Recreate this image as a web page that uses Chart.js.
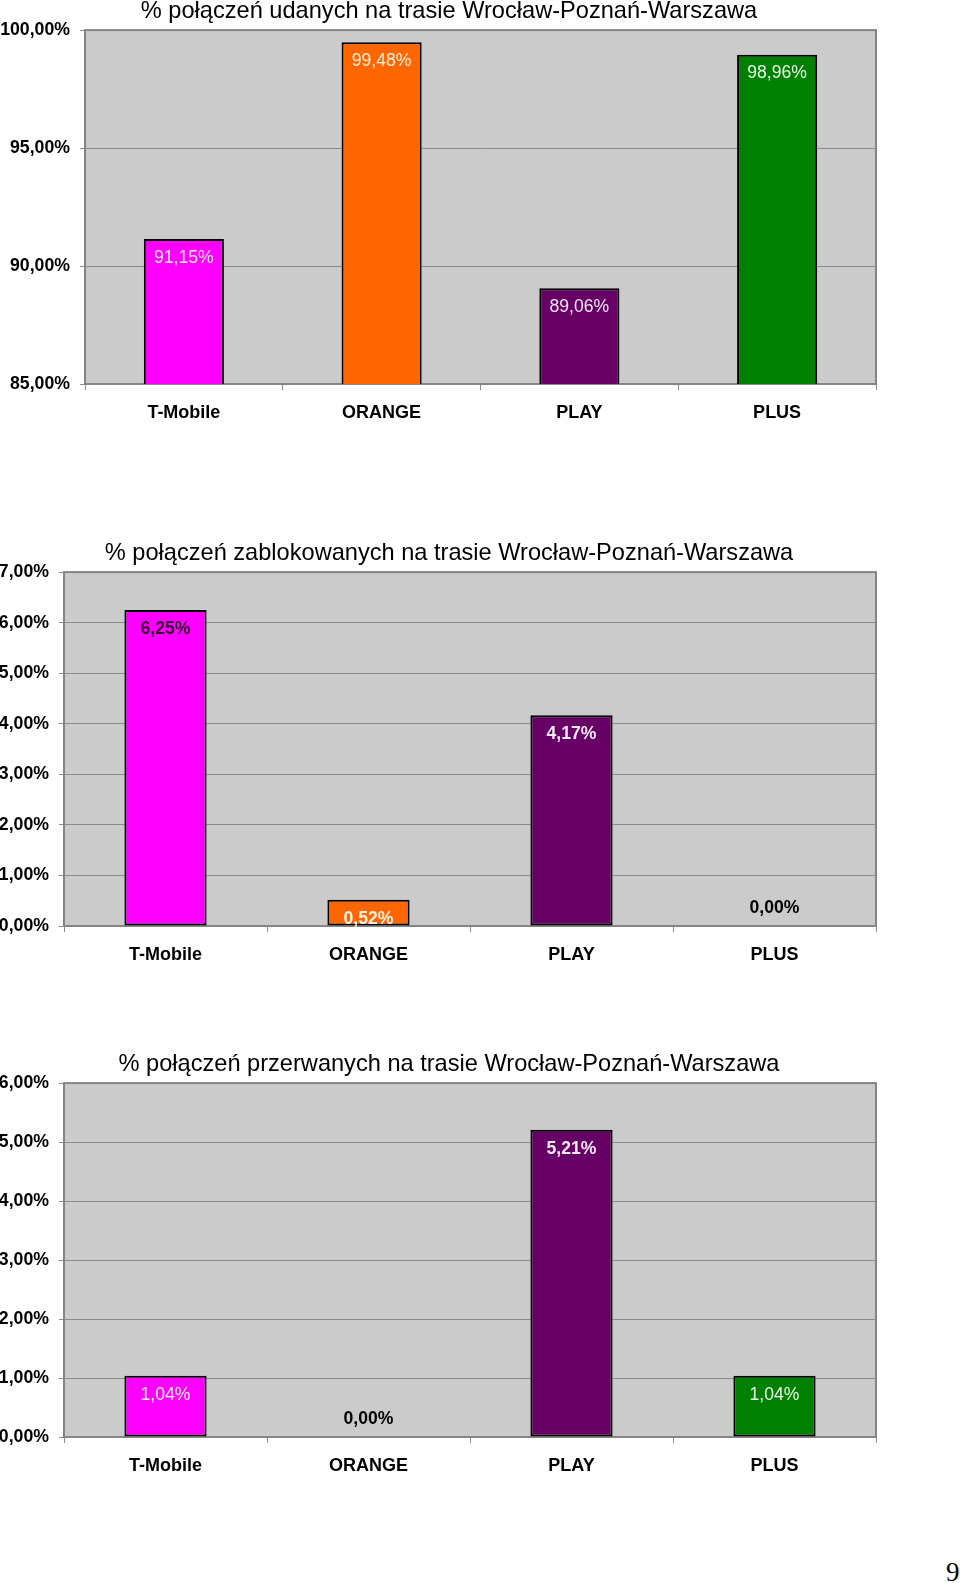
<!DOCTYPE html>
<html lang="pl">
<head>
<meta charset="utf-8">
<title>Połączenia na trasie Wrocław-Poznań-Warszawa</title>
<script src="https://cdn.jsdelivr.net/npm/chart.js@4.4.1/dist/chart.umd.min.js"></script>
<style>
  html, body { margin: 0; padding: 0; background: #fff; }
  body { position: relative; width: 960px; height: 1583px; overflow: hidden; }
  .box { position: absolute; left: 0; width: 898px; height: 430px; }
  #box1 { top: 0; }
  #box2 { top: 542px; }
  #box3 { top: 1053px; }
  .page-no {
    position: absolute; left: 946px; top: 1559px;
    font-family: "Liberation Serif", "DejaVu Serif", serif; font-size: 27px; line-height: 27px;
  }
</style>
</head>
<body>
<div class="box" id="box1"><canvas id="chart1"></canvas></div>
<div class="box" id="box2"><canvas id="chart2"></canvas></div>
<div class="box" id="box3"><canvas id="chart3"></canvas></div>
<div class="page-no">9</div>

<script>
const operators = ['T-Mobile', 'ORANGE', 'PLAY', 'PLUS'];
const barColors = ['#ff00ff', '#ff6600', '#660066', '#008000'];

const successTitle = '% połączeń udanych na trasie Wrocław-Poznań-Warszawa';
const successValues = [91.15, 99.48, 89.06, 98.96];
const successTicks = [85, 90, 95, 100];

const blockedTitle = '% połączeń zablokowanych na trasie Wrocław-Poznań-Warszawa';
const blockedValues = [6.25, 0.52, 4.17, 0.00];
const blockedTicks = [0, 1, 2, 3, 4, 5, 6, 7];

const droppedTitle = '% połączeń przerwanych na trasie Wrocław-Poznań-Warszawa';
const droppedValues = [1.04, 0.00, 5.21, 1.04];
const droppedTicks = [0, 1, 2, 3, 4, 5, 6];

const FONT = '"Liberation Sans", Arial, sans-serif';
const fmt = v => v.toFixed(2).replace('.', ',') + '%';

// gray plot area + thin frame, like the old excel charts
const plotFrame = {
  id: 'plotFrame',
  beforeDraw(chart) {
    const a = chart.chartArea, ctx = chart.ctx;
    ctx.save();
    ctx.fillStyle = '#cbcbcb';
    ctx.fillRect(a.left, a.top, a.right - a.left, a.bottom - a.top);
    ctx.restore();
  },
  beforeDatasetsDraw(chart) {
    const a = chart.chartArea, ctx = chart.ctx;
    ctx.save();
    ctx.strokeStyle = '#858585';
    ctx.lineWidth = 2;
    ctx.strokeRect(a.left, a.top, a.right - a.left, a.bottom - a.top);
    ctx.restore();
  }
};

// value labels inside the top of each bar (above the base when value is 0)
const valueLabels = {
  id: 'valueLabels',
  afterDatasetsDraw(chart, args, opts) {
    const ctx = chart.ctx;
    const meta = chart.getDatasetMeta(0);
    const data = chart.data.datasets[0].data;
    ctx.save();
    ctx.textAlign = 'center';
    ctx.textBaseline = 'middle';
    meta.data.forEach((bar, i) => {
      const v = data[i];
      const y = v === 0 ? bar.base - 18 : bar.y + 19;
      ctx.font = (opts.weights[i] || 'normal') + ' 17.6px ' + FONT;
      ctx.fillStyle = opts.colors[i];
      ctx.fillText(fmt(v), bar.x, y);
    });
    ctx.restore();
  }
};

function makeChart(id, title, values, ticks, yWidth, labelColors, labelWeights) {
  const ctx = document.getElementById(id).getContext('2d');
  return new Chart(ctx, {
    type: 'bar',
    data: {
      labels: operators,
      datasets: [{
        data: values,
        backgroundColor: barColors,
        borderColor: '#000',
        borderWidth: 2,
        borderSkipped: false,
        categoryPercentage: 1,
        barPercentage: 0.405
      }]
    },
    options: {
      responsive: true,
      maintainAspectRatio: false,
      animation: false,
      layout: { padding: 0 },
      scales: {
        x: {
          grid: { drawOnChartArea: false, drawTicks: true, tickLength: 6, color: '#8a8a8a', lineWidth: 1 },
          border: { display: false },
          ticks: { color: '#000', padding: 12, font: { family: FONT, size: 18, weight: 'bold' } },
          afterFit(s) { s.height = 46; s.paddingLeft = 0; s.paddingRight = 0; }
        },
        y: {
          min: ticks[0],
          max: ticks[ticks.length - 1],
          afterBuildTicks(s) { s.ticks = ticks.map(v => ({ value: v })); },
          grid: { color: '#8a8a8a', lineWidth: 1, tickLength: 5 },
          border: { display: false },
          ticks: {
            color: '#000', padding: 10,
            font: { family: FONT, size: 17.7, weight: 'bold' },
            callback: v => fmt(v)
          },
          afterFit(s) { s.width = yWidth; s.paddingTop = 0; s.paddingBottom = 0; }
        },
        // empty strip on the right so the title sits a bit left of the plot centre
        spacer: {
          type: 'linear',
          position: 'right',
          grid: { display: false },
          border: { display: false },
          ticks: { display: false },
          afterFit(s) { s.width = 22; s.paddingTop = 0; s.paddingBottom = 0; }
        }
      },
      plugins: {
        legend: { display: false },
        tooltip: { enabled: false },
        title: {
          display: true,
          text: title,
          color: '#000',
          font: { family: FONT, size: 23.6, weight: 'normal', lineHeight: 1 },
          padding: { top: 0, bottom: 6.5 }
        },
        valueLabels: { colors: labelColors, weights: labelWeights }
      }
    },
    plugins: [plotFrame, valueLabels]
  });
}

makeChart('chart1', successTitle, successValues, successTicks, 85,
  ['#ffe6ff', '#fff0e0', '#f2e6f2', '#e8f8e8'],
  ['normal', 'normal', 'normal', 'normal']);

makeChart('chart2', blockedTitle, blockedValues, blockedTicks, 64,
  ['#330033', '#fff3e6', '#f5eaf5', '#000000'],
  ['bold', 'bold', 'bold', 'bold']);

makeChart('chart3', droppedTitle, droppedValues, droppedTicks, 64,
  ['#fff0ff', '#000000', '#f5eaf5', '#eaf8ea'],
  ['normal', 'bold', 'bold', 'normal']);
</script>
</body>
</html>
